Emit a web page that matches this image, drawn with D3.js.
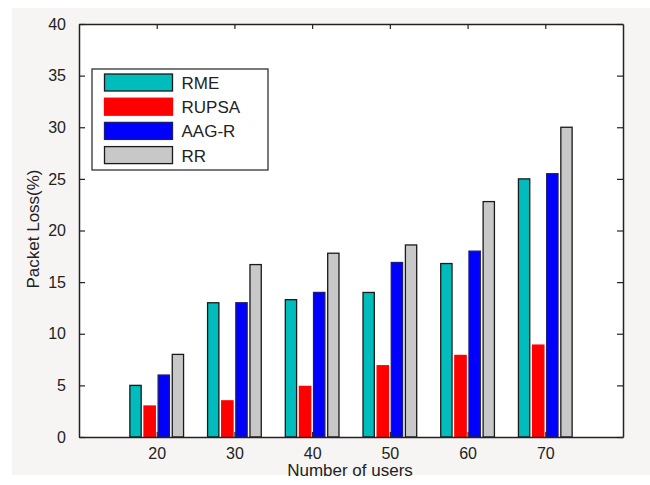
<!DOCTYPE html>
<html>
<head>
<meta charset="utf-8">
<script src="https://cdn.jsdelivr.net/npm/d3@7"></script>
<style>
  body { margin: 0; background: #ffffff; }
  svg { display: block; font-family: 'Liberation Sans', Arial, sans-serif; }
</style>
</head>
<body>
<div id="chart"></div>
<script>
// datos
const usuarios = [20, 30, 40, 50, 60, 70]
const series = ['RME', 'RUPSA', 'AAG-R', 'RR']
const valRME = [5, 13, 13.3, 14, 16.8, 25]
const valRUPSA = [3, 3.5, 4.9, 6.9, 7.9, 8.9]
const valAAGR = [6, 13, 14, 16.9, 18, 25.5]
const valRR = [8, 16.7, 17.8, 18.6, 22.8, 30]
const yTicks = [0, 5, 10, 15, 20, 25, 30, 35, 40]

const valores = [valRME, valRUPSA, valAAGR, valRR]
const colores = ['#00bcbc', '#ff0000', '#0000ff', '#c8c8c8']
const bordes = ['#1a1a1a', '#ff0000', '#1c1c70', '#1a1a1a']

const width = 650, height = 485
const margin = { left: 79, right: 27, top: 24, bottom: 48 }

const svg = d3.select('#chart')
    .append('svg')
    .attr('width', width)
    .attr('height', height)

// fondo gris claro de la captura
svg.append('rect')
    .attr('x', 12).attr('y', 8)
    .attr('width', width - 12).attr('height', height - 18)
    .attr('fill', '#f7f5f4')

const x = d3.scaleLinear().domain([10, 80]).range([margin.left, width - margin.right])
const y = d3.scaleLinear().domain([0, 40]).range([height - margin.bottom, margin.top])

svg.append('rect')
    .attr('x', x(10)).attr('y', y(40))
    .attr('width', x(80) - x(10)).attr('height', y(0) - y(40))
    .attr('fill', '#ffffff')

// ancho de grupo estilo matlab
const anchoGrupo = 10 * Math.min(0.8, 4 / 5.5)
const paso = anchoGrupo / 4
const anchoBarra = paso * 0.8

valores.forEach(function (serie, i) {
    svg.append('g')
        .selectAll('rect')
        .data(serie)
        .join('rect')
        .attr('x', (d, j) => x(usuarios[j] + (i - 1.5) * paso - anchoBarra / 2))
        .attr('y', (d) => y(d))
        .attr('width', x(anchoBarra) - x(0))
        .attr('height', (d) => y(0) - y(d))
        .attr('fill', colores[i])
        .attr('stroke', bordes[i])
        .attr('stroke-width', 1.3)
})

// ejes con ticks hacia dentro en los cuatro lados
const ejeAbajo = svg.append('g')
    .attr('transform', `translate(0,${y(0)})`)
    .call(d3.axisBottom(x).tickValues(usuarios).tickSize(-5).tickPadding(11).tickSizeOuter(0))
const ejeArriba = svg.append('g')
    .attr('transform', `translate(0,${y(40)})`)
    .call(d3.axisTop(x).tickValues(usuarios).tickSize(-5).tickFormat('').tickSizeOuter(0))
const ejeIzq = svg.append('g')
    .attr('transform', `translate(${x(10)},0)`)
    .call(d3.axisLeft(y).tickValues(yTicks).tickSize(-6).tickPadding(13).tickSizeOuter(0))
const ejeDer = svg.append('g')
    .attr('transform', `translate(${x(80)},0)`)
    .call(d3.axisRight(y).tickValues(yTicks).tickSize(-6).tickFormat('').tickSizeOuter(0))

;[ejeAbajo, ejeArriba, ejeIzq, ejeDer].forEach(function (eje) {
    eje.select('.domain').attr('stroke', '#222').attr('stroke-width', 1.5)
    eje.selectAll('.tick line').attr('stroke', '#222').attr('stroke-width', 1.2)
    eje.selectAll('.tick text')
        .attr('font-family', "'Liberation Sans', Arial, sans-serif")
        .attr('font-size', 16)
        .attr('fill', '#222')
})

svg.append('text')
    .attr('x', (x(10) + x(80)) / 2 - 1)
    .attr('y', 476)
    .attr('text-anchor', 'middle')
    .attr('font-size', 17)
    .attr('fill', '#222')
    .text('Number of users')

svg.append('text')
    .attr('transform', 'translate(39,229) rotate(-90)')
    .attr('text-anchor', 'middle')
    .attr('font-size', 17)
    .attr('fill', '#222')
    .text('Packet Loss(%)')

// leyenda
const leyenda = svg.append('g')
leyenda.append('rect')
    .attr('x', 92).attr('y', 69)
    .attr('width', 176).attr('height', 101)
    .attr('fill', '#ffffff')
    .attr('stroke', '#222')
    .attr('stroke-width', 1.2)

series.forEach(function (nombre, i) {
    const cy = 82.5 + i * 24.2
    leyenda.append('rect')
        .attr('x', 104.5).attr('y', cy - 8.5)
        .attr('width', 68).attr('height', 17)
        .attr('fill', colores[i])
        .attr('stroke', bordes[i])
        .attr('stroke-width', 1.3)
    leyenda.append('text')
        .attr('x', 181.5).attr('y', cy + 6.5)
        .attr('font-size', 17)
        .attr('fill', '#222')
        .text(nombre)
})
</script>
</body>
</html>
